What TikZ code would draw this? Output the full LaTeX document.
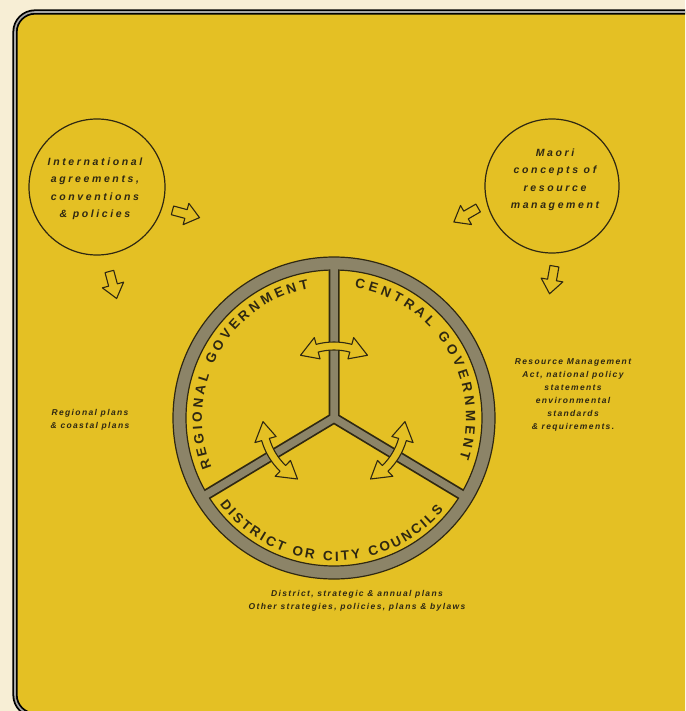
\documentclass[tikz,border=0pt]{standalone}
\usepackage{fontspec}
\setmainfont{Liberation Sans}
\newfontfamily\circfont[LetterSpace=25]{Liberation Sans}
\newfontfamily\notefont[LetterSpace=16]{Liberation Sans}
\newfontfamily\ringfont{Liberation Sans}
\usetikzlibrary{decorations.text}
\definecolor{cream}{HTML}{F7EED5}
\definecolor{panel}{HTML}{E4C024}
\definecolor{ink}{HTML}{2F2812}
\definecolor{band}{HTML}{8C8468}

\begin{document}
\begin{tikzpicture}[x=1pt, y=1pt, line join=round,
  ink/.style={draw=ink, line width=1.2pt},
  hollow/.style={draw=ink, line width=1.1pt, fill=panel},
  note/.style={text=ink, align=center, font=\notefont\bfseries\itshape\fontsize{8.5}{13}\selectfont},
  circtext/.style={text=ink, align=center, font=\circfont\bfseries\itshape\fontsize{10.5}{17.5}\selectfont},
  ringtext/.style={decorate, decoration={text along path, text align={fit to path}, text color=ink}},
]
\useasboundingbox (0,0) rectangle (685,-711);
\clip (0,0) rectangle (685,-711);
\fill[cream] (0,0) rectangle (685,-711);
% the yellow panel with its double frame
\draw[fill=panel, draw=black, line width=1.8pt, double=gray!70, double distance=1.6pt, rounded corners=20pt] (15,-12) rectangle (730,-715);

% outside influences
\draw[ink] (97,-187) circle (68);
\draw[ink] (552,-186) circle (67);
\node[circtext] (intl) at (95,-189) {International\\agreements,\\conventions\\\& policies};
\node[circtext] (maori) at (555,-180) {Maori\\concepts of\\resource\\management};

% hollow block arrows towards the sectors
\foreach \x/\y/\a in {186/214/-15, 113/285/-75, 466/215/210, 552/280/-100}{
  \draw[hollow, shift={(\x,-\y)}, rotate=\a] (-14,-4.5) -- (0,-4.5) -- (0,-11) -- (14,0) -- (0,11) -- (0,4.5) -- (-14,4.5) -- cycle;
}

% the three spheres of government
\begin{scope}[shift={(334,-418)}]
  % spokes: dark edges first, grey core later
  \draw[ink, line width=11pt, line cap=round] (90:154) -- (0,0) -- (211:154) (0,0) -- (329:154);
  \fill[band, even odd rule] (0,0) circle (161) (0,0) circle (148);
  \draw[ink] (0,0) circle (161) (0,0) circle (148);
  \draw[band, line width=7.5pt, line cap=round] (90:154) -- (0,0) -- (211:154) (0,0) -- (329:154);
  % two-way arrows across each boundary
  \foreach \a in {90,211,329}{
    \draw[hollow, shift={(\a:72)}, rotate=\a-90, shift={(0,-65)}]
      (75:69) arc[start angle=75, end angle=105, radius=69] -- (105:76) -- (121:65) -- (105:54)
      -- (105:61) arc[start angle=105, end angle=75, radius=61] -- (75:54) -- (59:65) -- (75:76) -- cycle;
  }
  % sector names
  \path[ringtext, decoration={text={|\ringfont\bfseries\fontsize{13.5}{13.5}\selectfont|REGIONAL GOVERNMENT}}]
    (202:132) arc[start angle=202, end angle=101, radius=132];
  \path[ringtext, decoration={text={|\ringfont\bfseries\fontsize{13.5}{13.5}\selectfont|CENTRAL GOVERNMENT}}]
    (81:132) arc[start angle=81, end angle=-18, radius=132];
  \path[ringtext, decoration={text={|\ringfont\bfseries\fontsize{13.5}{13.5}\selectfont|DISTRICT OR CITY COUNCILS}}]
    (217:143) arc[start angle=217, end angle=320, radius=143];
\end{scope}

% plans made by each sphere
\node[note] (regional) at (90,-420) {Regional plans\\\& coastal plans};
\node[note] (central) at (573,-395) {Resource Management\\Act, national policy\\statements\\environmental\\standards\\\& requirements.};
\node[note] (district) at (357,-601) {District, strategic \& annual plans\\Other strategies, policies, plans \& bylaws};
\end{tikzpicture}
\end{document}
